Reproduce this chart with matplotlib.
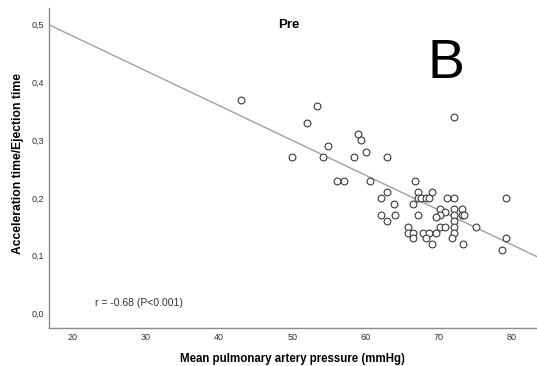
import numpy as np
import matplotlib
matplotlib.use("Agg")
import matplotlib.pyplot as plt

plt.rcParams['font.family'] = ['Liberation Sans', 'DejaVu Sans']

# mean pulmonary artery pressure (mmHg)
mpap = [42.9, 53.4, 52.0, 72.0, 59.0, 59.3, 54.8, 60.0, 50.0, 54.1,
        58.4, 62.9, 56.1, 57.0, 60.6, 66.8, 62.9, 67.1, 69.1, 62.1,
        67.1, 67.6, 68.2, 68.6, 71.1, 72.0, 79.1, 63.8, 66.5, 70.1,
        72.0, 73.1, 70.8, 70.1, 69.6, 62.1, 64.0, 67.1, 72.0, 73.1,
        73.4, 62.9, 72.0, 65.8, 70.1, 70.8, 72.0, 75.1, 65.8, 66.5,
        67.8, 68.6, 69.6, 72.0, 66.5, 68.3, 71.8, 79.1, 69.1, 73.3,
        78.6]
# acceleration time / ejection time
at_et = [0.37, 0.36, 0.33, 0.34, 0.31, 0.30, 0.29, 0.28, 0.27, 0.27,
         0.27, 0.27, 0.23, 0.23, 0.23, 0.23, 0.21, 0.21, 0.21, 0.20,
         0.20, 0.20, 0.20, 0.20, 0.20, 0.20, 0.20, 0.19, 0.19, 0.18,
         0.18, 0.18, 0.175, 0.17, 0.167, 0.17, 0.17, 0.17, 0.17, 0.17,
         0.17, 0.16, 0.16, 0.15, 0.15, 0.15, 0.15, 0.15, 0.14, 0.14,
         0.14, 0.14, 0.14, 0.14, 0.13, 0.13, 0.13, 0.13, 0.12, 0.12,
         0.11]

# fitted regression line
fit_intercept = 0.601
fit_slope = -0.00603

x_ticks = [20, 30, 40, 50, 60, 70, 80]
y_ticks = [0.0, 0.1, 0.2, 0.3, 0.4, 0.5]
y_tick_labels = ['0,0', '0,1', '0,2', '0,3', '0,4', '0,5']

fig = plt.figure(figsize=(5.37, 3.66), dpi=100)
ax = fig.add_axes([0.0907, 0.1046, 0.9093, 0.8734])

xlim = (16.7, 83.4)
ax.set_xlim(xlim)
ax.set_ylim(-0.025, 0.529)

xs = np.array(xlim)
ax.plot(xs, fit_intercept + fit_slope * xs, color='#a0a0a0', lw=1.0, zorder=2)

ax.scatter(mpap, at_et, s=24, facecolors='white', edgecolors='#3a3a3a',
           linewidths=0.8, zorder=3)

for s in ['top', 'right']:
    ax.spines[s].set_visible(False)
for s in ['left', 'bottom']:
    ax.spines[s].set_color('#8c8c8c')
    ax.spines[s].set_linewidth(1.0)

ax.set_xticks(x_ticks)
ax.set_yticks(y_ticks)
ax.set_yticklabels(y_tick_labels)
ax.tick_params(length=0, labelsize=6.5, colors='#333333')
ax.tick_params(axis='x', pad=3.5)
ax.tick_params(axis='y', pad=3)

ax.set_xlabel('Mean pulmonary artery pressure (mmHg)', fontsize=8.3,
              fontweight='bold', va='center')
ax.xaxis.set_label_coords(0.4993, -0.098)
ax.set_ylabel('Acceleration time/Ejection time', fontsize=8.7,
              fontweight='bold', va='center')
ax.yaxis.set_label_coords(-0.0625, 0.515)

ax.text(49.45, 0.500, 'Pre', fontsize=9.5,
        fontweight='bold', ha='center', va='center')
ax.text(70.95, 0.432, 'B', fontsize=40, ha='center', va='center')
ax.text(23.0, 0.018, 'r = -0.68 (P<0.001)', fontsize=7.5, color='#333333',
        ha='left', va='center')

fig.savefig('out.png', dpi=100)
